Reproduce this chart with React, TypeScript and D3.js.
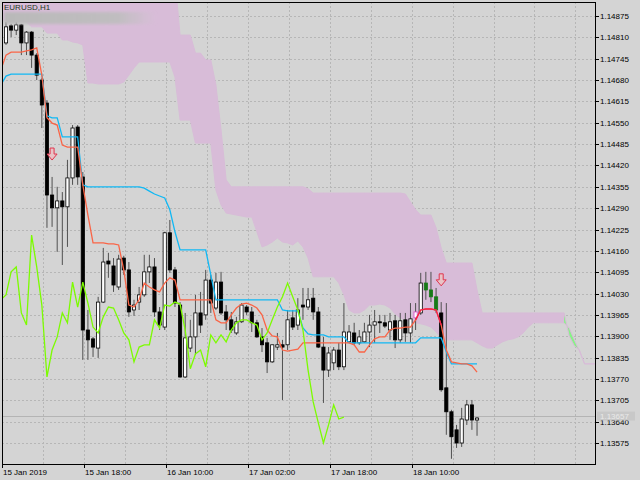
import React, { useEffect, useRef } from "react";
import * as d3 from "d3";

// EURUSD H1, one entry per bar (first bar sits under the left frame)
const opens = [
  1.14756, 1.14793, 1.14845, 1.14832, 1.14848, 1.14793, 1.14826, 1.14756, 1.1468, 1.1461,
  1.1433, 1.14291, 1.14312, 1.14294, 1.14382, 1.14537, 1.14385, 1.13919, 1.13892, 1.13864,
  1.14004, 1.14129, 1.14114, 1.1405, 1.14138, 1.14102, 1.1398, 1.14004, 1.14026, 1.14096,
  1.14111, 1.13974, 1.13928, 1.14215, 1.14102, 1.13995, 1.13776, 1.13864, 1.13898, 1.13971,
  1.13965, 1.14071, 1.13986, 1.14065, 1.13974, 1.1395, 1.1391, 1.13944, 1.13989, 1.13974,
  1.13941, 1.13898, 1.1388, 1.13822, 1.13867, 1.13874, 1.13874, 1.13956, 1.13934, 1.13995,
  1.13989, 1.14016, 1.13974, 1.13867, 1.13797, 1.13819, 1.13858, 1.13807, 1.13883, 1.1391,
  1.1388, 1.13883, 1.13913, 1.13934, 1.13944, 1.13941, 1.13919, 1.13947, 1.13889, 1.1395,
  1.1391, 1.13956, 1.13971, 1.14062, 1.14041, 1.1402, 1.13971, 1.13743, 1.1367, 1.13615,
  1.13575, 1.13645, 1.13691, 1.13645,
];
const highs = [
  1.14772, 1.14857, 1.14851, 1.14857, 1.14851, 1.14829, 1.14829, 1.14762, 1.14686, 1.14619,
  1.14385, 1.14355, 1.14339, 1.14437, 1.14543, 1.14543, 1.144, 1.1398, 1.13898, 1.1402,
  1.14169, 1.14154, 1.14138, 1.14148, 1.14145, 1.14126, 1.14011, 1.1405, 1.14148, 1.14148,
  1.14138, 1.13989, 1.14218, 1.14254, 1.14111, 1.14004, 1.13971, 1.1395, 1.14026, 1.14035,
  1.14102, 1.14087, 1.14093, 1.14096, 1.13995, 1.13974, 1.13959, 1.14001, 1.13995, 1.13989,
  1.1395, 1.13925, 1.13895, 1.13874, 1.1391, 1.13889, 1.1398, 1.1398, 1.14016, 1.14047,
  1.14047, 1.14047, 1.13989, 1.13898, 1.13867, 1.13867, 1.1388, 1.14001, 1.13934, 1.13941,
  1.13919, 1.13941, 1.13965, 1.1398, 1.13965, 1.13965, 1.13971, 1.13965, 1.13971, 1.13971,
  1.14001, 1.14001, 1.14093, 1.14096, 1.14096, 1.14047, 1.14004, 1.14001, 1.13676, 1.1363,
  1.13682, 1.13706, 1.13706, 1.13654,
];
const lows = [
  1.14705, 1.14787, 1.14811, 1.14817, 1.14756, 1.14756, 1.14717, 1.1468, 1.14534, 1.1423,
  1.14233, 1.14157, 1.14117, 1.14172, 1.14361, 1.14361, 1.13828, 1.13828, 1.13837, 1.13834,
  1.14001, 1.14078, 1.14035, 1.14041, 1.14087, 1.13959, 1.13962, 1.1398, 1.1402, 1.14062,
  1.13959, 1.13919, 1.13919, 1.14093, 1.13989, 1.13773, 1.13773, 1.13852, 1.13843, 1.1391,
  1.1395, 1.13971, 1.1398, 1.13965, 1.13919, 1.1391, 1.13904, 1.13941, 1.13965, 1.13913,
  1.13895, 1.13852, 1.13788, 1.13819, 1.13858, 1.13706, 1.13858, 1.13919, 1.13919, 1.1395,
  1.1398, 1.1395, 1.13864, 1.13697, 1.13776, 1.13797, 1.13797, 1.13797, 1.1388, 1.13874,
  1.13874, 1.1388, 1.13867, 1.1388, 1.1391, 1.13925, 1.13889, 1.13864, 1.1388, 1.13883,
  1.1388, 1.13919, 1.13965, 1.14011, 1.14004, 1.13971, 1.13731, 1.136, 1.13527, 1.1356,
  1.13563, 1.1363, 1.13615, 1.13597,
];
const closes = [
  1.14717, 1.14842, 1.14832, 1.14848, 1.14793, 1.14826, 1.14756, 1.14695, 1.14604, 1.1433,
  1.14291, 1.14312, 1.14294, 1.14382, 1.14534, 1.14385, 1.13919, 1.13889, 1.13867, 1.14004,
  1.14126, 1.1412, 1.14056, 1.14135, 1.14102, 1.13974, 1.13995, 1.14026, 1.14096, 1.14111,
  1.13974, 1.13934, 1.14215, 1.14102, 1.14001, 1.13776, 1.13895, 1.13898, 1.13971, 1.13934,
  1.14071, 1.14001, 1.14065, 1.13971, 1.1395, 1.13919, 1.13944, 1.13995, 1.13974, 1.13941,
  1.13898, 1.13874, 1.13822, 1.13874, 1.13874, 1.13867, 1.1395, 1.13928, 1.1398, 1.13989,
  1.14011, 1.13974, 1.13867, 1.13797, 1.13849, 1.13858, 1.13807, 1.13913, 1.13913, 1.1388,
  1.13898, 1.13913, 1.13934, 1.13944, 1.13941, 1.13931, 1.13944, 1.13889, 1.13947, 1.1391,
  1.13953, 1.13974, 1.14062, 1.14041, 1.1402, 1.1398, 1.13737, 1.1367, 1.13594, 1.13575,
  1.13648, 1.13691, 1.13645, 1.13651,
];

// bars painted by the signal indicator
const greenBars = [83, 84, 85];
const pinkBars = [81];

// Ichimoku lines
const tenkan = [
  1.14711, 1.14756, 1.14765, 1.14765, 1.14765, 1.14769, 1.14772, 1.14778, 1.14695, 1.14565,
  1.14549, 1.14543, 1.14482, 1.14476, 1.14476, 1.14476, 1.14361, 1.14269, 1.14184, 1.14184,
  1.14184, 1.14181, 1.14181, 1.14178, 1.14102, 1.13995, 1.13989, 1.14011, 1.14062, 1.1405,
  1.14041, 1.14035, 1.14062, 1.14078, 1.14071, 1.14011, 1.14011, 1.14011, 1.14011, 1.14011,
  1.14011, 1.14011, 1.1395, 1.13941, 1.13941, 1.13965, 1.13986, 1.13998, 1.14001, 1.13995,
  1.13986, 1.13965, 1.13919, 1.13901, 1.13898, 1.13858, 1.13855, 1.13858, 1.13861, 1.1388,
  1.1388, 1.1388, 1.1388, 1.1388, 1.1388, 1.1388, 1.1388, 1.1388, 1.1388, 1.13874,
  1.13852, 1.13852, 1.13874, 1.13892, 1.13898, 1.13898, 1.13919, 1.13925, 1.13925, 1.13928,
  1.13928, 1.1395, 1.1398, 1.13983, 1.13983, 1.1398, 1.13934, 1.13858, 1.13822, 1.13819,
  1.13816, 1.13816, 1.1381, 1.13791,
];
const kijun = [
  1.14665, 1.14692, 1.14698, 1.14698, 1.14698, 1.14698, 1.14698, 1.14698, 1.14698, 1.14571,
  1.14565, 1.14565, 1.14507, 1.14507, 1.14507, 1.14507, 1.14361, 1.14355, 1.14355, 1.14355,
  1.14355, 1.14355, 1.14355, 1.14355, 1.14355, 1.14355, 1.14355, 1.14355, 1.14351, 1.14342,
  1.14333, 1.14327, 1.14321, 1.14285, 1.14218, 1.14163, 1.14163, 1.14163, 1.14163, 1.14163,
  1.14163, 1.14087, 1.14011, 1.14011, 1.14011, 1.14011, 1.14011, 1.14011, 1.14011, 1.14011,
  1.14011, 1.14011, 1.14011, 1.14011, 1.14011, 1.1398, 1.13977, 1.13977, 1.13977, 1.13925,
  1.13907, 1.13904, 1.13904, 1.13904, 1.13898, 1.13898, 1.13898, 1.13898, 1.1388, 1.1388,
  1.1388, 1.1388, 1.1388, 1.1388, 1.1388, 1.1388, 1.1388, 1.1388, 1.1388, 1.1388,
  1.1388, 1.1388, 1.13895, 1.13895, 1.13895, 1.13895, 1.13895, 1.13852, 1.13816, 1.13816,
  1.13816, 1.13816, 1.13816, 1.13816,
];
const chikou = [
  1.14011, 1.14026, 1.14096, 1.14111, 1.13971, 1.13934, 1.14208, 1.14111, 1.13995, 1.13776,
  1.13858, 1.13898, 1.13971, 1.13941, 1.14065, 1.13989, 1.14065, 1.14001, 1.13928, 1.1391,
  1.13959, 1.13989, 1.13986, 1.1395, 1.1391, 1.13889, 1.13822, 1.13867, 1.13874, 1.13874,
  1.1395, 1.13925, 1.13995, 1.13992, 1.14004, 1.13998, 1.13919, 1.13801, 1.13846, 1.13858,
  1.13807, 1.13904, 1.1388, 1.13904, 1.13883, 1.13919, 1.13941, 1.1395, 1.1395, 1.13941,
  1.13934, 1.13889, 1.1391, 1.1395, 1.13989, 1.1402, 1.14062, 1.1402, 1.1398, 1.13919,
  1.13797, 1.137, 1.13636, 1.13575, 1.1363, 1.13691, 1.13648, 1.13654,
];
const spanA = [
  1.14863, 1.14863, 1.14863, 1.14863, 1.14863, 1.14857, 1.14842, 1.14842, 1.14842, 1.14823,
  1.14823, 1.14823, 1.14802, 1.14802, 1.14796, 1.14793, 1.14787, 1.14671, 1.14671, 1.14668,
  1.14668, 1.14668, 1.14668, 1.14668, 1.14674, 1.14695, 1.14717, 1.14735, 1.14735, 1.14735,
  1.14735, 1.14735, 1.14735, 1.14735, 1.14689, 1.14558, 1.14558, 1.14558, 1.14488, 1.14488,
  1.14488, 1.14488, 1.14345, 1.143, 1.14275, 1.14272, 1.14269, 1.14266, 1.14263, 1.14263,
  1.14218, 1.14172, 1.14178, 1.14187, 1.14199, 1.14187, 1.14184, 1.14178, 1.1419, 1.14172,
  1.14138, 1.14081, 1.14081, 1.14081, 1.14081, 1.14081, 1.14062, 1.14026, 1.1398, 1.13971,
  1.13971, 1.1398, 1.13995, 1.13995, 1.13998, 1.13995, 1.13986, 1.13968, 1.13956, 1.1395,
  1.13944, 1.13941, 1.13938, 1.13934, 1.13928, 1.13913, 1.13895, 1.13889, 1.13889, 1.13889,
  1.13889, 1.13889, 1.13889, 1.1388, 1.13871, 1.13864, 1.13864, 1.13874, 1.13883, 1.13889,
  1.13892, 1.13898, 1.1391, 1.13928, 1.13941, 1.13941, 1.13941, 1.13941, 1.13941, 1.13941,
  1.13941, 1.13925, 1.13889, 1.13855, 1.13816, 1.13816, 1.13816, 1.13816, 1.13816, 1.13816,
];
const spanB = [
  1.1499, 1.1499, 1.1499, 1.1499, 1.1499, 1.1499, 1.1499, 1.1499, 1.1499, 1.1499,
  1.1499, 1.1499, 1.1499, 1.1499, 1.1499, 1.1499, 1.1499, 1.1499, 1.1499, 1.1499,
  1.1499, 1.1499, 1.1499, 1.1499, 1.1499, 1.1499, 1.1499, 1.1499, 1.1499, 1.1499,
  1.1499, 1.1499, 1.1499, 1.1499, 1.1499, 1.14817, 1.14817, 1.14817, 1.14762, 1.14762,
  1.14741, 1.14741, 1.14665, 1.14528, 1.14376, 1.14355, 1.14355, 1.14355, 1.14355, 1.14355,
  1.14355, 1.14355, 1.14355, 1.14355, 1.14355, 1.14355, 1.14355, 1.14355, 1.14355, 1.14355,
  1.14349, 1.14336, 1.14336, 1.14336, 1.14336, 1.14336, 1.14336, 1.14336, 1.14336, 1.14336,
  1.14336, 1.14336, 1.14336, 1.14336, 1.14336, 1.14336, 1.14336, 1.14336, 1.14336, 1.14333,
  1.14309, 1.14285, 1.14269, 1.14269, 1.14269, 1.1423, 1.14169, 1.14123, 1.14123, 1.14123,
  1.14123, 1.14123, 1.14123, 1.14041, 1.13971, 1.13971, 1.13971, 1.13971, 1.13971, 1.13971,
  1.13971, 1.13971, 1.13971, 1.13971, 1.13971, 1.13971, 1.13971, 1.13971, 1.13971, 1.13971,
  1.13971, 1.13901, 1.13871, 1.13858, 1.13816, 1.13816, 1.13816, 1.13816, 1.13816, 1.13816,
];

// sell arrows (bar, price of the arrow tail)
const arrowBars = [10, 86];
const arrowPrices = [1.14473, 1.1409];

const bidPrice = 1.13657;
const priceTicks = [
  1.14875, 1.1481, 1.14745, 1.1468, 1.14615, 1.1455, 1.14485, 1.1442, 1.14355, 1.1429, 1.14225,
  1.1416, 1.14095, 1.1403, 1.13965, 1.139, 1.13835, 1.1377, 1.13705, 1.1364, 1.13575,
];
const timeLabels = ["15 Jan 2019", "15 Jan 18:00", "16 Jan 10:00", "17 Jan 02:00", "17 Jan 18:00", "18 Jan 10:00"];
const timeLabelBars = [1, 17, 33, 49, 65, 81];

const IchimokuChart: React.FC = () => {
  const chartRef = useRef<SVGSVGElement>(null);

  useEffect(() => {
    const svg = d3.select(chartRef.current);
    svg.selectAll("*").remove();

    const plot = { left: 2, top: 2, right: 595, bottom: 464 };
    const font = "'Liberation Sans', Arial, sans-serif";

    // bar index -> x, price -> y
    const x = d3.scaleLinear().domain([1, 93]).range([6, 6 + 92 * 5.12]);
    const y = d3.scaleLinear().domain([1.13575, 1.14875]).range([443, 16]);

    const defs = svg.append("defs");
    defs.append("clipPath").attr("id", "plotClip")
      .append("rect")
      .attr("x", plot.left).attr("y", plot.top)
      .attr("width", plot.right - plot.left).attr("height", plot.bottom - plot.top);
    const grad = defs.append("linearGradient").attr("id", "fadeBar");
    grad.append("stop").attr("offset", "0%").attr("stop-color", "#b9b9b9").attr("stop-opacity", 1);
    grad.append("stop").attr("offset", "75%").attr("stop-color", "#bdbdbd").attr("stop-opacity", 0.9);
    grad.append("stop").attr("offset", "100%").attr("stop-color", "#c4c4c4").attr("stop-opacity", 0);
    defs.append("filter").attr("id", "soft")
      .append("feGaussianBlur").attr("stdDeviation", 1.6);

    // background
    svg.append("rect").attr("width", 640).attr("height", 480).attr("fill", "#d4d4d4");

    const g = svg.append("g").attr("clip-path", "url(#plotClip)");

    // grid
    g.selectAll(".hgrid")
      .data(priceTicks)
      .enter()
      .append("line")
      .attr("x1", plot.left).attr("x2", plot.right)
      .attr("y1", d => Math.round(y(d)) + 0.5).attr("y2", d => Math.round(y(d)) + 0.5)
      .attr("stroke", "#b6b6b6").attr("stroke-dasharray", "2,2");
    g.selectAll(".vgrid")
      .data(d3.range(9, 120, 8))
      .enter()
      .append("line")
      .attr("x1", d => Math.round(x(d) - 4) + 0.5).attr("x2", d => Math.round(x(d) - 4) + 0.5)
      .attr("y1", plot.top).attr("y2", plot.bottom)
      .attr("stroke", "#b6b6b6").attr("stroke-dasharray", "2,2");

    // cloud
    const idx = d3.range(spanA.length);
    const cloud = d3.area<number>()
      .x(i => x(i))
      .y0(i => y(spanA[i]))
      .y1(i => y(spanB[i]));
    g.append("path")
      .datum(idx)
      .attr("d", cloud.defined(i => spanB[i] >= spanA[i])(idx) as string)
      .attr("fill", "#d8bcd8");
    const greenIdx = idx.filter(i =>
      spanA[i] > spanB[i] || (spanA[i - 1] > spanB[i - 1]) || (spanA[i + 1] > spanB[i + 1]));
    g.append("path")
      .attr("d", d3.area<number>().x(i => x(i)).y0(i => y(spanA[i])).y1(i => y(spanB[i]))(greenIdx) as string)
      .attr("fill", "#86f386");
    const spanLine = (arr: number[]) => d3.line<number>().x(i => x(i)).y(i => y(arr[i]))(idx) as string;
    g.append("path").attr("d", spanLine(spanA)).attr("fill", "none").attr("stroke", "#d8bcd8").attr("stroke-width", 1);
    g.append("path").attr("d", spanLine(spanB)).attr("fill", "none").attr("stroke", "#d8bcd8").attr("stroke-width", 1);

    // bid line
    g.append("line")
      .attr("x1", plot.left).attr("x2", plot.right)
      .attr("y1", Math.round(y(bidPrice)) + 0.5).attr("y2", Math.round(y(bidPrice)) + 0.5)
      .attr("stroke", "#b4b4b4");

    // candles
    const bars = d3.range(opens.length);
    const bodyColor = (i: number) => {
      if (greenBars.includes(i)) return "#177a17";
      if (closes[i] >= opens[i]) return "#ffffff";
      return "#000000";
    };
    g.selectAll(".wick")
      .data(bars)
      .enter()
      .append("line")
      .attr("x1", i => x(i)).attr("x2", i => x(i))
      .attr("y1", i => y(highs[i])).attr("y2", i => y(lows[i]))
      .attr("stroke", "#505050").attr("stroke-width", 1);
    g.selectAll(".body")
      .data(bars)
      .enter()
      .append("rect")
      .attr("x", i => x(i) - 1.6)
      .attr("y", i => y(Math.max(opens[i], closes[i])))
      .attr("width", 3.2)
      .attr("height", i => Math.max(1, Math.abs(y(opens[i]) - y(closes[i]))))
      .attr("fill", i => bodyColor(i))
      .attr("stroke", i => (pinkBars.includes(i) ? "#d846c8" : greenBars.includes(i) ? "#177a17" : "#000"))
      .attr("stroke-width", 0.8);

    // Ichimoku lines
    const lineOf = (arr: number[]) =>
      d3.line<number>().x(i => x(i)).y(i => y(arr[i]))(d3.range(arr.length)) as string;
    g.append("path").attr("d", lineOf(kijun)).attr("fill", "none")
      .attr("stroke", "#10b8f4").attr("stroke-width", 1.3);
    g.append("path").attr("d", lineOf(tenkan)).attr("fill", "none")
      .attr("stroke", "#fa6446").attr("stroke-width", 1.3);
    g.append("path")
      .attr("d", d3.line<number>().x(i => x(i)).y(i => y(tenkan[i]))(d3.range(81, 87)) as string)
      .attr("fill", "none").attr("stroke", "#f2204c").attr("stroke-width", 1.3);
    g.append("path").attr("d", lineOf(chikou)).attr("fill", "none")
      .attr("stroke", "#7cfc00").attr("stroke-width", 1.3);

    // arrows
    arrowBars.forEach((b, k) => {
      const cx = x(b);
      const y0 = y(arrowPrices[k]);
      const pts: [number, number][] = [
        [cx - 2, y0], [cx + 2, y0], [cx + 2, y0 + 6], [cx + 5, y0 + 6],
        [cx, y0 + 12], [cx - 5, y0 + 6], [cx - 2, y0 + 6],
      ];
      g.append("path")
        .attr("d", "M" + pts.map(p => p.join(",")).join("L") + "Z")
        .attr("fill", "#e9c3c6").attr("stroke", "#e0344e").attr("stroke-width", 1);
    });

    // symbol caption and blurred strip
    svg.append("rect").attr("x", 4).attr("y", 12).attr("width", 152).attr("height", 12)
      .attr("fill", "url(#fadeBar)").attr("filter", "url(#soft)");
    svg.append("text").attr("x", 4).attr("y", 10)
      .attr("font-family", font).attr("font-size", 8).attr("fill", "#1d3a1d")
      .text("EURUSD,H1");

    // frame
    svg.append("rect")
      .attr("x", plot.left + 0.5).attr("y", plot.top + 0.5)
      .attr("width", plot.right - plot.left).attr("height", plot.bottom - plot.top)
      .attr("fill", "none").attr("stroke", "#000").attr("stroke-width", 1);

    // price axis
    const fmt = d3.format(".5f");
    priceTicks.forEach(p => {
      const yy = Math.round(y(p)) + 0.5;
      svg.append("line").attr("x1", plot.right).attr("x2", plot.right + 4)
        .attr("y1", yy).attr("y2", yy).attr("stroke", "#000");
      svg.append("text").attr("x", plot.right + 5).attr("y", yy).attr("dy", "0.35em")
        .attr("font-family", font).attr("font-size", 8).attr("fill", "#000")
        .text(fmt(p));
    });
    const by = y(bidPrice);
    svg.append("rect").attr("x", plot.right + 2).attr("y", by - 4.5).attr("width", 38).attr("height", 9)
      .attr("fill", "#c6c6c6").attr("opacity", 0.85);
    svg.append("text").attr("x", plot.right + 5).attr("y", by).attr("dy", "0.35em")
      .attr("font-family", font).attr("font-size", 8).attr("fill", "#e8e8e8")
      .text(fmt(bidPrice));

    // time axis
    timeLabelBars.forEach((b, k) => {
      const xx = Math.round(x(b) - 4) + 0.5;
      svg.append("line").attr("x1", xx).attr("x2", xx)
        .attr("y1", plot.bottom).attr("y2", plot.bottom + 4).attr("stroke", "#000");
      svg.append("text").attr("x", xx + 0.5).attr("y", 475)
        .attr("font-family", font).attr("font-size", 8).attr("fill", "#000")
        .text(timeLabels[k]);
    });
  }, []);

  return (
    <svg
      ref={chartRef}
      width={640}
      height={480}
      style={{ position: "fixed", left: 0, top: 0, display: "block" }}
    />
  );
};

export default function App() {
  return <IchimokuChart />;
}
